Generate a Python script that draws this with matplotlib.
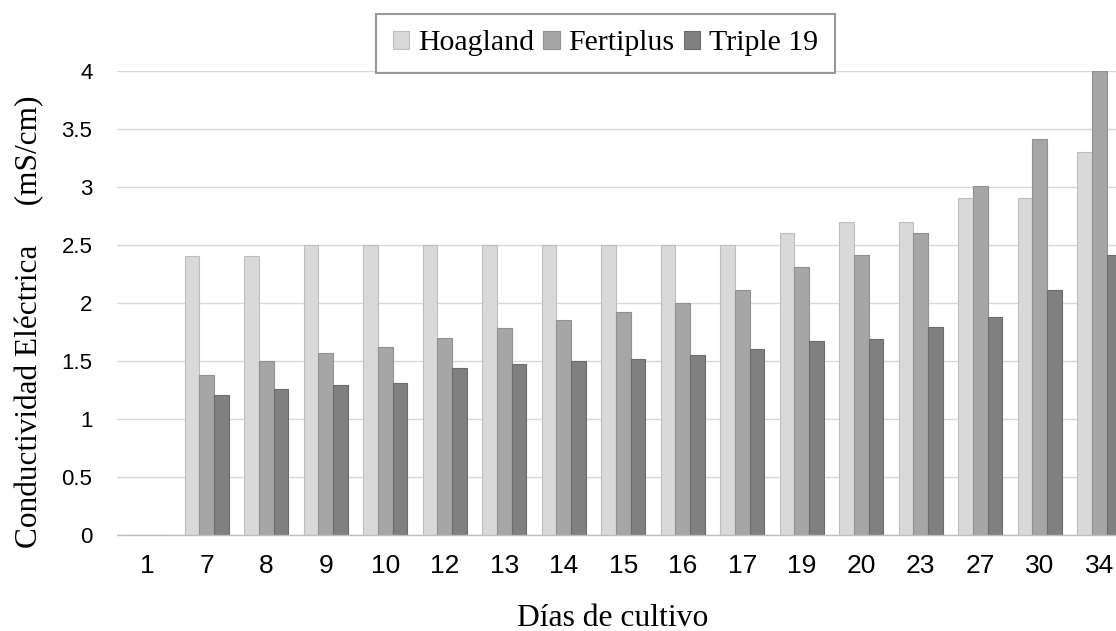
import matplotlib
matplotlib.use("Agg")
import matplotlib.pyplot as plt
import numpy as np

days = ["1", "7", "8", "9", "10", "12", "13", "14", "15", "16", "17", "19", "20", "23", "27", "30", "34"]
hoagland = [0, 2.4, 2.4, 2.5, 2.5, 2.5, 2.5, 2.5, 2.5, 2.5, 2.5, 2.6, 2.7, 2.7, 2.9, 2.9, 3.3]
fertiplus = [0, 1.38, 1.5, 1.57, 1.62, 1.7, 1.78, 1.85, 1.92, 2.0, 2.11, 2.31, 2.41, 2.6, 3.01, 3.41, 4.0]
triple19 = [0, 1.21, 1.26, 1.29, 1.31, 1.44, 1.47, 1.5, 1.52, 1.55, 1.6, 1.67, 1.69, 1.79, 1.88, 2.11, 2.41]
series_names = ["Hoagland", "Fertiplus", "Triple 19"]
yticks = [0, 0.5, 1, 1.5, 2, 2.5, 3, 3.5, 4]

fig = plt.figure(figsize=(11.16, 6.31), dpi=100)
W, H = 1116, 631
left_px, right_px, bottom_px, top_px = 117.4, 1129.0, 535.0, 70.7
ax = fig.add_axes([left_px / W, 1 - bottom_px / H, (right_px - left_px) / W, (bottom_px - top_px) / H])

x = np.arange(len(days))
bw = 0.2467
fills = ["#d9d9d9", "#a6a6a6", "#808080"]
edges = ["#bdbdbd", "#919191", "#6c6c6c"]
handles = []
for i, (vals, name) in enumerate(zip([hoagland, fertiplus, triple19], series_names)):
    b = ax.bar(x + (i - 1) * bw, vals, width=bw, color=fills[i], edgecolor=edges[i],
               linewidth=0.8, label=name, zorder=3)
    handles.append(b)

ax.set_xlim(-0.5, len(days) - 0.5)
ax.set_ylim(0, 4)
ax.set_yticks(yticks)
ax.set_yticklabels([f"{v:g}" for v in yticks], fontfamily="Liberation Sans", fontsize=16)
ax.set_xticks(x)
ax.set_xticklabels(days, fontfamily="Liberation Sans", fontsize=19)
ax.tick_params(axis="y", length=0, pad=18)
ax.tick_params(axis="x", length=0, pad=14)
ax.yaxis.grid(True, color="#d9d9d9", linewidth=1.0, zorder=0)
ax.set_axisbelow(True)
for s in ["top", "right", "left"]:
    ax.spines[s].set_visible(False)
ax.spines["bottom"].set_color("#bfbfbf")
ax.spines["bottom"].set_linewidth(1.0)
ax.spines["bottom"].set_zorder(4)

fig.text(612.5 / W, 1 - 618 / H, "Días de cultivo", fontfamily="Liberation Serif", fontsize=22.8,
         ha="center", va="center")
fig.text(30 / W, 1 - 322 / H, "Conductividad Eléctrica     (mS/cm)", fontfamily="Liberation Serif",
         fontsize=22.5, ha="center", va="center", rotation=90)

leg = fig.legend(handles=handles, labels=series_names, loc="center",
                 bbox_to_anchor=(605.5 / W, 1 - 43.3 / H), ncol=3,
                 prop={"family": "Liberation Serif", "size": 21.5},
                 handlelength=0.55, handleheight=0.55, handletextpad=0.3, columnspacing=0.3,
                 frameon=True, fancybox=False, borderpad=0.55, borderaxespad=0)
leg.get_frame().set_edgecolor("#7f7f7f")
leg.get_frame().set_linewidth(1.5)

fig.savefig("out.png", dpi=100)
